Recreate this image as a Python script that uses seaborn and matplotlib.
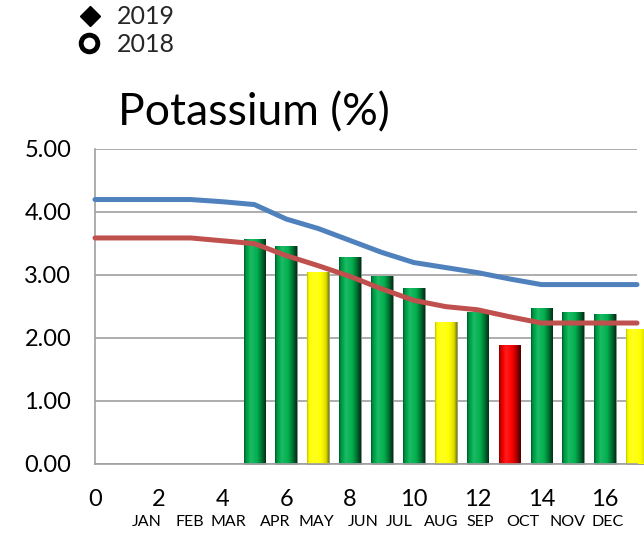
import numpy as np
import pandas as pd
import matplotlib
matplotlib.use("Agg")
import matplotlib.pyplot as plt
from matplotlib.lines import Line2D
import seaborn as sns

# ---------------- data ----------------
line_x = list(range(18))
target_2019 = [4.19, 4.19, 4.19, 4.19, 4.155, 4.11, 3.88, 3.73, 3.54, 3.35,
               3.19, 3.11, 3.03, 2.93, 2.84, 2.84, 2.84, 2.84]
target_2018 = [3.58, 3.58, 3.58, 3.58, 3.535, 3.49, 3.30, 3.14, 2.97, 2.77,
               2.59, 2.49, 2.44, 2.33, 2.23, 2.23, 2.23, 2.23]

bar_x = [5, 6, 7, 8, 9, 10, 11, 12, 13, 14, 15, 16, 17]
bar_values = [3.57, 3.45, 3.04, 3.27, 2.97, 2.79, 2.24, 2.40, 1.88, 2.47, 2.40, 2.38, 2.14]
bar_status = ["ok", "ok", "warn", "ok", "ok", "ok", "warn", "ok", "low", "ok", "ok", "ok", "warn"]

months = ["JAN", "FEB", "MAR", "APR", "MAY", "JUN", "JUL", "AUG", "SEP", "OCT", "NOV", "DEC"]
y_ticks = [0, 1, 2, 3, 4, 5]
x_ticks = list(range(18))

title = "Potassium (%)"
legend_labels = ["2019", "2018"]

# ---------------- style ----------------
status_colors = {"ok": "#00B050", "warn": "#FFFF00", "low": "#FF0000"}
blue = "#4F81BD"
red = "#C0504D"
grid_c = "#A0A0A0"
month_label_x = [1.62, 2.98, 4.17, 5.66, 6.95, 8.40, 9.55, 10.85, 12.07, 13.42, 14.83, 16.08]

sns.set_theme(style="white")
plt.rcParams["font.family"] = ["Lato", "DejaVu Sans"]

W, H = 644, 533
fig = plt.figure(figsize=(W / 100, H / 100), dpi=100)
ax = fig.add_axes([95 / W, (H - 463.5) / H, 542 / W, 315 / H])

df = pd.DataFrame({"x": bar_x, "value": bar_values, "status": bar_status})
sns.barplot(data=df, x="x", y="value", hue="status", palette=status_colors,
            native_scale=True, width=0.68, dodge=False, legend=False, saturation=1,
            edgecolor="#8a8a8a", linewidth=0.6, ax=ax, zorder=2)

bars = list(ax.patches)

# horizontal shading to imitate the bevelled look
t = np.linspace(0, 1, 64)
prof_dark = np.interp(t, [0, 0.07, 0.3, 0.6, 0.82, 1.0], [0.5, 0.8, 1.12, 1.0, 0.62, 0.28])
prof_light = np.interp(t, [0, 0.06, 0.3, 0.65, 0.88, 1.0], [0.75, 0.95, 1.12, 1.0, 0.85, 0.5])
for p in bars:
    p.set_clip_on(False)
    base = np.array(matplotlib.colors.to_rgb(p.get_facecolor()))
    prof = prof_light if base.sum() > 1.9 else prof_dark
    img = np.zeros((1, len(t), 3))
    for i, f in enumerate(prof):
        if f >= 1:
            img[0, i] = base + (1 - base) * (f - 1)
        else:
            img[0, i] = base * f
    x0, y0 = p.get_x(), p.get_y()
    w, h = p.get_width(), p.get_height()
    im = ax.imshow(np.clip(img, 0, 1), extent=[x0, x0 + w, y0, y0 + h], aspect="auto",
                   interpolation="bilinear", zorder=2.5)
    im.set_clip_path(p)

sns.lineplot(x=line_x, y=target_2019, color=blue, lw=3.6, ax=ax, zorder=4, clip_on=False)
sns.lineplot(x=line_x, y=target_2018, color=red, lw=3.6, ax=ax, zorder=4, clip_on=False)

ax.set_xlim(0, 17)
ax.set_ylim(0, 5)
ax.set_xticks(x_ticks)
ax.set_xticklabels([str(v) if v % 2 == 0 else "" for v in x_ticks])
ax.set_yticks(y_ticks)
ax.set_yticklabels([f"{v:.2f}" for v in y_ticks])
ax.set_xlabel("")
ax.set_ylabel("")

ax.grid(axis="y", color=grid_c, lw=1.2, zorder=0)
ax.grid(axis="x", visible=False)
ax.set_axisbelow(True)
for s in ["top", "right"]:
    ax.spines[s].set_visible(False)
for s in ["left", "bottom"]:
    ax.spines[s].set_color(grid_c)
    ax.spines[s].set_linewidth(1.2)
ax.tick_params(axis="both", which="major", direction="out", length=6, width=1.2,
               color=grid_c, labelcolor="black", labelsize=17)
ax.tick_params(axis="x", pad=12)
ax.tick_params(axis="y", pad=11)

for lx, m in zip(month_label_x, months):
    ax.text(lx, -0.186, m, transform=ax.get_xaxis_transform(), ha="center",
            va="center", fontsize=11.5, color="black")

fig.text(254 / W, 1 - 125.5 / H, title, ha="center", va="baseline",
         fontsize=32, color="black")

# legend
fig.add_artist(Line2D([90 / W], [1 - 16 / H], marker="D", ms=10, color="black",
                      ls="none", transform=fig.transFigure))
fig.add_artist(Line2D([89 / W], [1 - 43 / H], marker="o", ms=12, mew=3.5,
                      mfc="white", mec="black", ls="none", transform=fig.transFigure))
fig.text(117 / W, 1 - 17 / H, legend_labels[0], ha="left", va="center", fontsize=18)
fig.text(117 / W, 1 - 44 / H, legend_labels[1], ha="left", va="center", fontsize=18)

fig.savefig("out.png", dpi=100)
